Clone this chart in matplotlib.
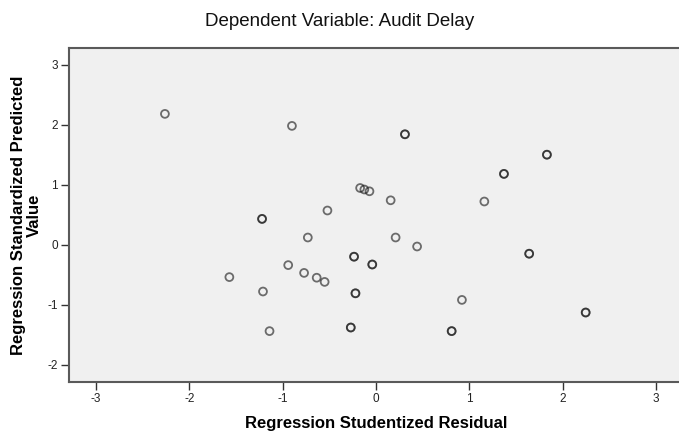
"""
SPSS style residual scatter: studentized residual vs standardized predicted value.
"""

import matplotlib.pyplot as plt

# Data; repeated entries are overlapping cases
residual = [-2.26, -0.90, 0.31, 0.31, 1.83, 1.83, 1.37, 1.37, 1.16,
            -0.17, -0.125, -0.07, 0.157, -0.52, -1.22, -1.22,
            -0.73, 0.21, 0.44, 1.64, 1.64, -0.235, -0.235, -0.04, -0.04,
            -0.94, -1.57, -0.77, -0.635, -0.55, -1.21, -0.22, -0.22,
            0.92, 2.245, 2.245, -1.14, -0.27, -0.27, 0.81, 0.81]
predicted = [2.18, 1.98, 1.84, 1.84, 1.50, 1.50, 1.18, 1.18, 0.72,
             0.945, 0.92, 0.89, 0.74, 0.57, 0.43, 0.43,
             0.12, 0.12, -0.03, -0.15, -0.15, -0.20, -0.20, -0.33, -0.33,
             -0.34, -0.54, -0.47, -0.55, -0.62, -0.78, -0.81, -0.81,
             -0.92, -1.13, -1.13, -1.44, -1.38, -1.38, -1.44, -1.44]

x_ticks = [-3, -2, -1, 0, 1, 2, 3]
y_ticks = [-2, -1, 0, 1, 2, 3]

TITLE = "Dependent Variable: Audit Delay"
XLABEL = "Regression Studentized Residual"
YLABEL = "Regression Standardized Predicted\nValue"

W, H = 679, 436
plt.rcParams['font.family'] = ['Liberation Sans', 'DejaVu Sans']

fig = plt.figure(figsize=(W / 100, H / 100), dpi=100)
fig.patch.set_facecolor('white')
# right edge of the frame falls just outside the picture, as in the reference
ax = fig.add_axes([69 / W, (H - 381.7) / H, (683 - 69) / W, (381.7 - 48.3) / H])
ax.set_facecolor('#f0f0f0')

ax.scatter(residual, predicted, s=32, facecolors='none',
           edgecolors=(0.1, 0.1, 0.1, 0.62), linewidths=1.3, zorder=3)

ax.set_xlim(-3.287, 3.287)
ax.set_ylim(-2.283, 3.273)
ax.set_xticks(x_ticks)
ax.set_yticks(y_ticks)
ax.set_xticklabels([str(v) for v in x_ticks])
ax.set_yticklabels([str(v) for v in y_ticks])
ax.tick_params(direction='out', length=6, width=1, color='#333333',
               labelsize=8.5, labelcolor='#222222', pad=2)

for side in ['left', 'bottom', 'top', 'right']:
    ax.spines[side].set_color('#5a5a5a')
    ax.spines[side].set_linewidth(1.5)

ax.set_xlabel(XLABEL, fontsize=12, fontweight='bold', labelpad=8)
ax.set_ylabel(YLABEL, fontsize=12, fontweight='bold', labelpad=4,
              linespacing=1.05)

fig.text(0.5, 1 - 26 / H, TITLE, ha='center', va='baseline', fontsize=13.5,
         color='#111111')

fig.savefig('out.png', dpi=100)
